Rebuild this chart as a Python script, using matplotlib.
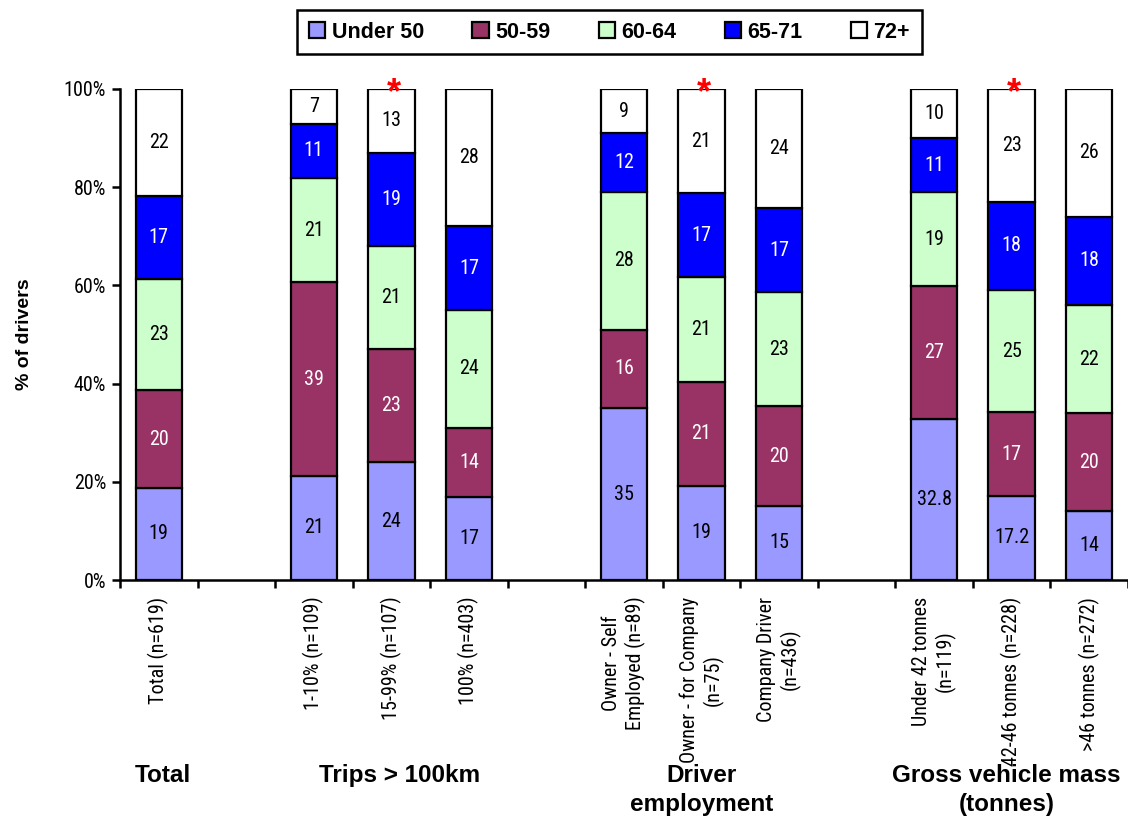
import matplotlib
matplotlib.use("Agg")
import matplotlib.pyplot as plt
import matplotlib.transforms as mtransforms
from matplotlib import font_manager
from matplotlib.patches import Patch
import numpy as np

# Slot positions: empty slots separate the groups
slots = [0, 2, 3, 4, 6, 7, 8, 10, 11, 12]
categories = [
    "Total (n=619)",
    "1-10% (n=109)",
    "15-99% (n=107)",
    "100% (n=403)",
    "Owner - Self\nEmployed (n=89)",
    "Owner - for Company\n(n=75)",
    "Company Driver\n(n=436)",
    "Under 42 tonnes\n(n=119)",
    "42-46 tonnes (n=228)",
    ">46 tonnes (n=272)",
]
under_50 = [19, 21, 24, 17, 35, 19, 15, 32.8, 17.2, 14]
age_50_59 = [20, 39, 23, 14, 16, 21, 20, 27, 17, 20]
age_60_64 = [23, 21, 21, 24, 28, 21, 23, 19, 25, 22]
age_65_71 = [17, 11, 19, 17, 12, 17, 17, 11, 18, 18]
age_72_plus = [22, 7, 13, 28, 9, 21, 24, 10, 23, 26]
series_names = ["Under 50", "50-59", "60-64", "65-71", "72+"]
significant = [2, 5, 8]  # index into categories

groups = ["Total", "Trips > 100km", "Driver\nemployment", "Gross vehicle mass\n(tonnes)"]
group_x = [0.05, 3.1, 7.0, 10.93]

colors = ["#9999FF", "#993366", "#CCFFCC", "#0000FF", "#FFFFFF"]
text_colors = ["black", "white", "black", "white", "black"]

# pick a condensed face if one is installed
installed = {f.name for f in font_manager.fontManager.ttflist}
condensed = [f.name for f in font_manager.fontManager.ttflist
             if f.stretch in ("condensed", "semi-condensed", 87.5, 75)]
narrow_name = None
for cand in ["Liberation Sans Narrow", "Arial Narrow", "Roboto Condensed",
             "Open Sans Condensed", "DejaVu Sans Condensed"]:
    if cand in installed:
        narrow_name = cand
        break
if narrow_name is None and condensed:
    narrow_name = condensed[0]
narrow_stretch = "condensed" if narrow_name in condensed else "normal"
narrow = [narrow_name, "Liberation Sans"] if narrow_name else ["Liberation Sans"]
num_size = 14.5 if narrow_name else 12.5

bold_font = ["Liberation Sans", "DejaVu Sans"]

fig = plt.figure(figsize=(11.28, 8.16), dpi=100)
ax = fig.add_axes([120 / 1128, 1 - 580 / 816, 1008 / 1128, 491 / 816])

series = [under_50, age_50_59, age_60_64, age_65_71, age_72_plus]
data = np.array(series, dtype=float)
totals = data.sum(axis=0)
shares = data / totals

x = np.array(slots, dtype=float)
bottom = np.zeros(len(slots))
for i, (vals, share) in enumerate(zip(series, shares)):
    ax.bar(x, share, width=0.6, bottom=bottom, color=colors[i],
           edgecolor="black", linewidth=1.6, zorder=2)
    for xi, b, s, v in zip(x, bottom, share, vals):
        ax.text(xi, b + s / 2, f"{v:g}", ha="center", va="center",
                color=text_colors[i], fontsize=num_size, family=narrow,
                fontstretch=narrow_stretch, zorder=3)
    bottom += share

for idx in significant:
    ax.text(x[idx] + 0.03, 0.99, "*", ha="center", va="center", color="red",
            fontsize=26, fontweight="bold", family=bold_font, zorder=4,
            clip_on=False)

ax.set_xlim(-0.5, 12.5)
ax.set_ylim(0, 1)
ax.set_yticks(np.linspace(0, 1, 6))
ax.set_yticklabels([f"{int(round(v * 100))}%" for v in np.linspace(0, 1, 6)],
                   family=narrow, fontstretch=narrow_stretch, fontsize=num_size)

ax.set_xticks(np.arange(-0.5, 13, 1.0))
ax.set_xticklabels([])
ax.set_xticks(x, minor=True)
ax.set_xticklabels(categories, minor=True, rotation=90, ha="center", va="top",
                   multialignment="center", family=narrow,
                   fontstretch=narrow_stretch, fontsize=num_size)
ax.tick_params(axis="x", which="minor", length=0, pad=12)
ax.tick_params(axis="y", which="major", pad=4)
ax.tick_params(axis="both", which="major", direction="out", length=6, width=1.8)

for side in ["top", "right"]:
    ax.spines[side].set_visible(False)
for side in ["left", "bottom"]:
    ax.spines[side].set_linewidth(1.8)

ax.set_ylabel("% of drivers", fontsize=14, fontweight="bold", family=bold_font,
              labelpad=22)

trans = mtransforms.blended_transform_factory(ax.transData, ax.transAxes)
for gx, name in zip(group_x, groups):
    ax.text(gx, -0.375, name, transform=trans, ha="center", va="top",
            fontsize=17.5, fontweight="bold", family=bold_font, linespacing=1.3)

handles = [Patch(facecolor=c, edgecolor="black", linewidth=1.6) for c in colors]
leg = fig.legend(handles, series_names, loc="center", ncol=5,
                 bbox_to_anchor=(609.5 / 1128, 1 - 32 / 816),
                 prop={"family": bold_font, "weight": "bold", "size": 15.5},
                 handlelength=0.75, handleheight=0.75, handletextpad=0.3,
                 columnspacing=2.25, fancybox=False, framealpha=1,
                 borderpad=0.55)
leg.get_frame().set_edgecolor("black")
leg.get_frame().set_linewidth(1.8)

fig.savefig("out.png", dpi=100)
